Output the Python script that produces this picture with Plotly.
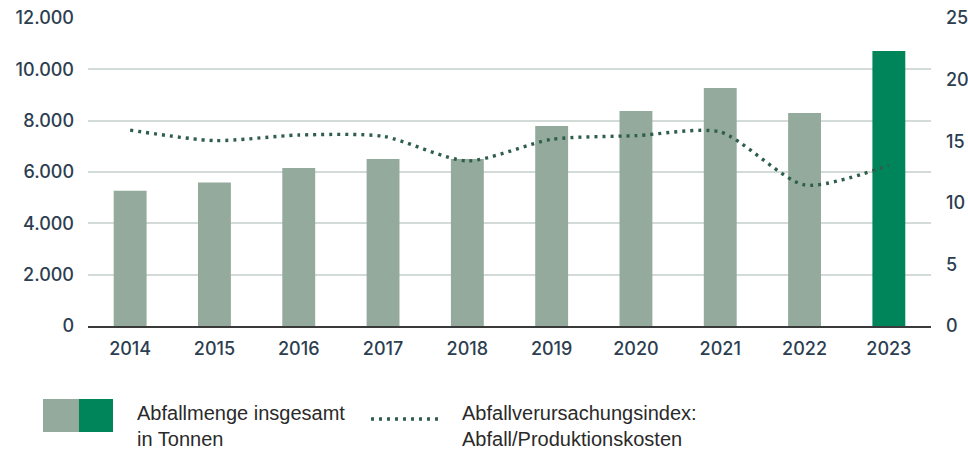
import plotly.graph_objects as go

# Waste data per year
years = ["2014", "2015", "2016", "2017", "2018", "2019", "2020", "2021", "2022", "2023"]
waste_tonnes = [5270, 5590, 6160, 6510, 6510, 7790, 8380, 9270, 8300, 10710]
waste_index = [15.9, 15.05, 15.5, 15.4, 13.4, 15.15, 15.45, 15.75, 11.45, 13.05]

left_ticks = [0, 2000, 4000, 6000, 8000, 10000, 12000]
left_tick_text = ["0", "2.000", "4.000", "6.000", "8.000", "10.000", "12.000"]
right_ticks = [0, 5, 10, 15, 20, 25]

bar_light = "#94aa9c"
bar_dark = "#00855a"
line_color = "#2f5e4c"
tick_color = "#2c3e50"
legend_font = "Liberation Sans Narrow, Arial Narrow, Liberation Sans, sans-serif"

W, H = 968, 455
L, R, T, B = 88, 37, 18, 129
pw, ph = W - L - R, H - T - B


def px(x):
    return (x - L) / pw


def py(y):
    return (H - B - y) / ph


bar_colors = [bar_light] * (len(years) - 1) + [bar_dark]

fig = go.Figure()
fig.add_trace(go.Bar(
    x=years, y=waste_tonnes, marker=dict(color=bar_colors, line=dict(width=0)),
    yaxis="y", showlegend=False,
))
fig.add_trace(go.Scatter(
    x=years, y=waste_index, yaxis="y2", mode="lines",
    line=dict(color=line_color, width=3.4, dash="3px,5px", shape="spline", smoothing=0.7),
    showlegend=False,
))

shapes = [
    dict(type="rect", xref="paper", yref="paper", x0=px(43), x1=px(79), y0=py(432), y1=py(399),
         fillcolor=bar_light, line=dict(width=0)),
    dict(type="rect", xref="paper", yref="paper", x0=px(79), x1=px(113), y0=py(432), y1=py(399),
         fillcolor=bar_dark, line=dict(width=0)),
    dict(type="line", xref="paper", yref="paper", x0=px(371), x1=px(439), y0=py(419), y1=py(419),
         line=dict(color=line_color, width=3.4, dash="3px,5px")),
]

annotations = [
    dict(xref="paper", yref="paper", x=px(135), y=py(400), xanchor="left", yanchor="top",
         align="left", showarrow=False,
         text="Abfallmenge insgesamt<br>in Tonnen",
         font=dict(family=legend_font, size=20, color="#2a2a2a")),
    dict(xref="paper", yref="paper", x=px(460), y=py(400), xanchor="left", yanchor="top",
         align="left", showarrow=False,
         text="Abfallverursachungsindex:<br>Abfall/Produktionskosten",
         font=dict(family=legend_font, size=20, color="#2a2a2a")),
]

tick_font = dict(family="Inter, Roboto, sans-serif", size=18, color=tick_color, weight=500)

fig.update_layout(
    width=W, height=H,
    margin=dict(l=L, r=R, t=T, b=B, autoexpand=False),
    paper_bgcolor="white", plot_bgcolor="white",
    bargap=0.61,
    xaxis=dict(
        type="category", showgrid=False, showline=True, linecolor="#3a3a3a", linewidth=1.5,
        tickfont=tick_font, ticks="", ticklabelstandoff=6, automargin=False,
    ),
    yaxis=dict(
        range=[0, 12000], tickvals=left_ticks, ticktext=left_tick_text,
        showgrid=True, gridcolor="#d3dbd8", gridwidth=1.5, zeroline=False,
        tickfont=tick_font, ticklabelstandoff=13, automargin=False,
    ),
    yaxis2=dict(
        range=[0, 25], tickvals=right_ticks, overlaying="y", side="right",
        showgrid=False, zeroline=False, tickfont=tick_font, ticklabelstandoff=14,
        automargin=False,
    ),
    shapes=shapes,
    annotations=annotations,
)

fig.write_html("out.html")
